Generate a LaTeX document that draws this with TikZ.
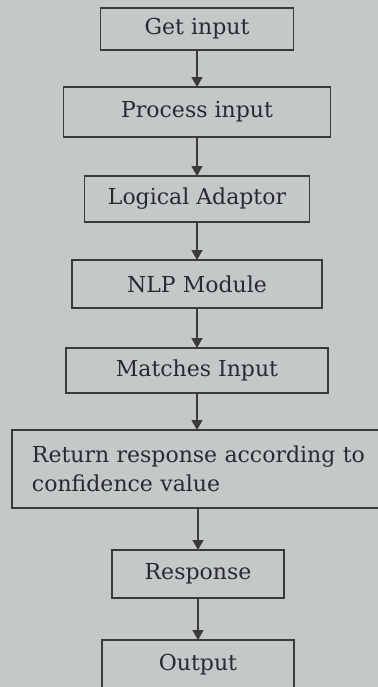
\documentclass[tikz,border=0pt]{standalone}
\usepackage{fontspec}
\setmainfont{DejaVu Serif}
\usepackage{xcolor}
\usetikzlibrary{arrows.meta,positioning}

\definecolor{paper}{RGB}{196,200,201}
\definecolor{ink}{RGB}{58,58,60}
\definecolor{letter}{RGB}{42,42,46}

\begin{document}
\begin{tikzpicture}[
    node distance=19.5pt,
    box/.style={rectangle, draw=ink, line width=0.8pt, outer sep=0pt, text=letter, align=center,
                font=\fontsize{11}{14.5}\selectfont},
    arrow/.style={-{Triangle[length=5pt,width=5.5pt]}, draw=ink, line width=0.7pt}
]
    % page and background
    \fill[paper] (0,0) rectangle (189pt,-343.5pt);
    \useasboundingbox (0,0) rectangle (189pt,-343.5pt);

    \node[box, minimum width=96.5pt, minimum height=21pt] (get) at (98.5pt,-14.5pt) {Get input};
    \node[box, below=18.5pt of get, minimum width=133.5pt, minimum height=25pt] (process) {Process input};
    \node[box, below=19.5pt of process, minimum width=112.5pt, minimum height=23pt] (adaptor) {Logical Adaptor};
    \node[box, below=19pt of adaptor, minimum width=125pt, minimum height=24pt] (nlp) {NLP Module};
    \node[box, below=20pt of nlp, minimum width=131pt, minimum height=22.5pt] (matches) {Matches Input};
    \node[box, below=18.5pt of matches, xshift=3pt, align=left, text width=171pt,
          inner xsep=10pt, minimum height=39pt] (confidence)
          {Return response according to\\confidence value};
    \node[box, below=21pt of confidence.south -| matches, anchor=north, minimum width=86pt,
          minimum height=24pt, xshift=0.5pt] (response) {Response};
    \node[box, below=21pt of response, minimum width=96pt, minimum height=25pt] (output) {Output};

    \draw[arrow] (get) -- (process);
    \draw[arrow] (process) -- (adaptor);
    \draw[arrow] (adaptor) -- (nlp);
    \draw[arrow] (nlp) -- (matches);
    \draw[arrow] (matches) -- (matches |- confidence.north);
    \draw[arrow] (confidence.south -| response) -- (response);
    \draw[arrow] (response) -- (output);
\end{tikzpicture}
\end{document}
